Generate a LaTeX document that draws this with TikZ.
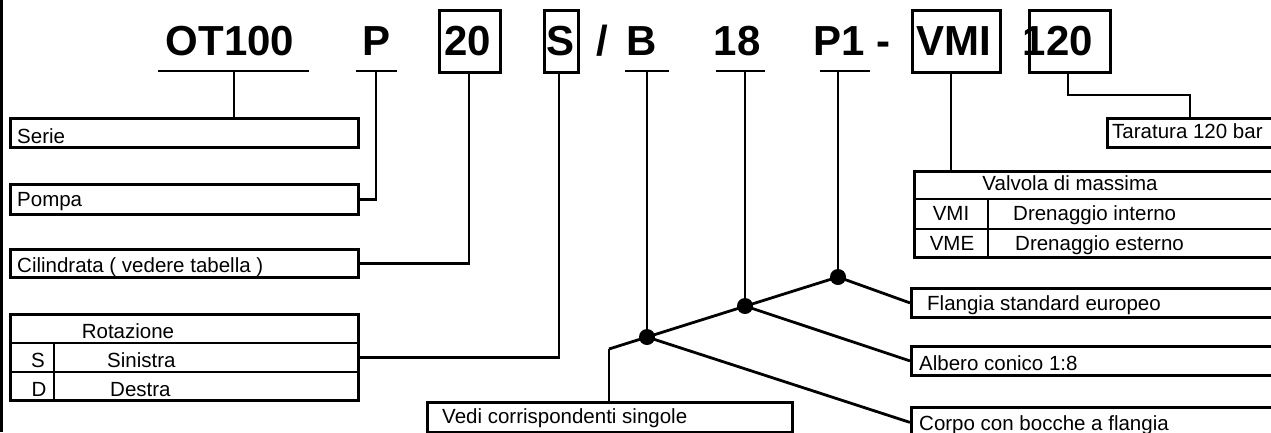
\documentclass[tikz,border=0pt]{standalone}
\usepackage{fontspec}
\setmainfont{Liberation Sans}
\begin{document}
\tikzset{
  ln/.style={line width=2.8pt},
  box/.style={draw, line width=2.8pt, inner sep=0pt, anchor=north west},
  ttl/.style={font=\fontsize{42}{42}\selectfont\bfseries, inner sep=0pt, anchor=base},
  lbl/.style={font=\fontsize{20.5}{20.5}\selectfont, inner sep=0pt, anchor=base west},
  lblc/.style={font=\fontsize{20.5}{20.5}\selectfont, inner sep=0pt, anchor=base},
  jdot/.style={circle, fill, inner sep=0pt, minimum size=16pt},
}
\begin{tikzpicture}[x=1pt,y=-1pt]
\useasboundingbox (0,0) rectangle (1271,432);
\clip (0,0) rectangle (1271,432);
% left border
\coordinate (bt) at (1.5,0); \coordinate (bb) at (1.5,432);
\draw[ln] (bt) -- (bb);

% code letters
\node[ttl] (tOT) at (230,55) {OT100};
\node[ttl] (tP) at (377,55) {P};
\node[ttl] (t20) at (468,55) {20};
\node[ttl] (tS) at (560,55) {S};
\node[ttl] (tsl) at (602,55) {/};
\node[ttl] (tB) at (642,55) {B};
\node[ttl] (t18) at (737,55) {18};
\node[ttl] (tP1) at (839,55) {P1};
\node[ttl] (tdash) at (883,55) {-};
\node[ttl] (tVMI) at (954,55) {VMI};
\node[ttl] (t120) at (1058,55) {120};

% framed codes
\node[box, minimum width=61pt, minimum height=62pt] (b20) at (438,9) {};
\node[box, minimum width=34pt, minimum height=62pt] (bS) at (543,9) {};
\node[box, minimum width=88pt, minimum height=62pt] (bVMI) at (911,9) {};
\node[box, minimum width=81pt, minimum height=62pt] (b120) at (1028,9) {};

% underlines
\coordinate (uOTa) at (158,71); \coordinate (uOTb) at (309,71);
\coordinate (uPa) at (356,71); \coordinate (uPb) at (397,71);
\coordinate (uBa) at (625,71); \coordinate (uBb) at (669,71);
\coordinate (u18a) at (716,71); \coordinate (u18b) at (765,71);
\coordinate (uP1a) at (820,71); \coordinate (uP1b) at (870,71);
\draw[ln] (uOTa) -- (uOTb);
\draw[ln] (uPa) -- (uPb);
\draw[ln] (uBa) -- (uBb);
\draw[ln] (u18a) -- (u18b);
\draw[ln] (uP1a) -- (uP1b);

% description boxes (left)
\node[box, minimum width=348pt, minimum height=29pt] (serie) at (9,117) {};
\node[box, minimum width=348pt, minimum height=30pt] (pompa) at (9,183) {};
\node[box, minimum width=348pt, minimum height=28pt] (cil) at (9,248) {};
\node[box, minimum width=348pt, minimum height=86pt] (rot) at (9,313) {};
\draw[ln] (9,343) -- (357,343);
\draw[ln] (9,372) -- (357,372);
\draw[ln] (54,343) -- (54,399);

\node[lbl] (lserie) at (17,143) {Serie};
\node[lbl] (lpompa) at (17,206) {Pompa};
\node[lbl] (lcil) at (17,272) {Cilindrata ( vedere tabella )};
\node[lblc] (lrot) at (128,338) {Rotazione};
\node[lblc] (lS) at (38,367) {S};
\node[lbl] (lsin) at (107,367) {Sinistra};
\node[lblc] (lD) at (39,396) {D};
\node[lbl] (ldes) at (110,396) {Destra};

% description boxes (right)
\node[box, minimum width=169pt, minimum height=29pt] (tar) at (1106,117) {};
\node[lbl] (ltar) at (1112,138) {Taratura 120 bar};

\node[box, minimum width=362pt, minimum height=86pt] (valv) at (913,170) {};
\draw[ln] (913,199) -- (1275,199);
\draw[ln] (913,229) -- (1275,229);
\draw[ln] (988,199) -- (988,256);
\node[lblc] (lvalv) at (1070,190) {Valvola di massima};
\node[lblc] (lVMI) at (951,220) {VMI};
\node[lbl] (lint) at (1013,220) {Drenaggio interno};
\node[lblc] (lVME) at (952,250) {VME};
\node[lbl] (lest) at (1015,250) {Drenaggio esterno};

\node[box, minimum width=365pt, minimum height=29pt] (fla) at (910,287) {};
\node[lbl] (lfla) at (927,310) {Flangia standard europeo};
\node[box, minimum width=365pt, minimum height=29pt] (alb) at (910,345) {};
\node[lbl] (lalb) at (919,370) {Albero conico 1:8};
\node[box, minimum width=365pt, minimum height=30pt] (cor) at (910,406) {};
\node[lbl] (lcor) at (919,430) {Corpo con bocche a flangia};
\node[box, minimum width=365pt, minimum height=30pt] (vedi) at (426,401) {};
\node[lbl] (lvedi) at (442,423) {Vedi corrispondenti singole};

% connectors
\coordinate (cOT) at (234,71);
\draw[ln] (cOT) -- (cOT |- serie.north);
\coordinate (cP) at (376,71);
\draw[ln] (cP) |- (pompa.east);
\coordinate (c20) at (469,71);
\draw[ln] (c20) |- (cil.east);
\coordinate (cS) at (559,71);
\draw[ln] (cS) |- (rot.east);
\coordinate (cVMI) at (951,71);
\draw[ln] (cVMI) -- (cVMI |- valv.north);
\coordinate (c120) at (1068,71);
\coordinate (k120) at (1190,95);
\draw[ln] (c120) |- (k120) -- (k120 |- tar.north);

% junction line
\node[jdot] (dB) at (647,337) {};
\node[jdot] (d18) at (745,306) {};
\node[jdot] (dP1) at (838,277) {};
\coordinate (mEnd) at (609,349);
\draw[ln] (mEnd) -- (dP1.center);
\draw[ln] (mEnd) -- (mEnd |- vedi.north);
\coordinate (cB) at (647,71);
\coordinate (c18) at (745,71);
\coordinate (cP1) at (838,71);
\draw[ln] (cB) -- (dB.center);
\draw[ln] (c18) -- (d18.center);
\draw[ln] (cP1) -- (dP1.center);
\draw[ln] (dP1.center) -- (fla.west);
\draw[ln] (d18.center) -- (alb.west);
\draw[ln] (dB.center) -- (cor.west);
\end{tikzpicture}
\end{document}
